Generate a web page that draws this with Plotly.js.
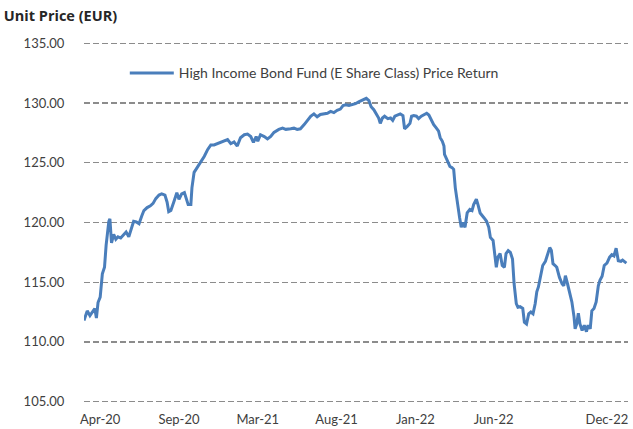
<!DOCTYPE html>
<html>
<head>
<meta charset="utf-8">
<script src="https://cdn.plot.ly/plotly-3.0.1.min.js"></script>
<style>html,body{margin:0;padding:0;background:#fff;}#chart{width:633px;height:429px;}</style>
</head>
<body>
<div id="chart"></div>
<script>
// Days since 31-Mar-2020 (approx.) for each reading
const days = [0,6,11,15,20,23,26,30,34,38,41,46,48,51,55,59,63,68,74,78,83,88,92,97,102,107,111,117,123,128,133,139,144,150,154,157,161,167,172,176,181,186,189,193,198,200,204,210,216,223,229,235,241,247,253,260,266,272,278,284,290,297,303,309,314,319,322,327,334,340,346,352,361,368,374,383,389,395,401,408,414,420,426,432,438,445,451,457,463,469,475,480,485,491,497,503,509,512,519,523,528,532,537,542,546,549,553,557,563,568,572,576,581,586,591,594,599,604,607,611,616,620,625,630,635,639,643,648,653,657,660,664,667,668,672,674,678,682,685,688,692,696,699,702,706,710,715,719,722,727,730,734,741,746,750,753,758,761,764,767,771,775,779,782,786,790,794,797,801,804,808,813,816,820,824,828,832,836,839,842,847,850,855,859,863,866,869,873,876,881,886,889,892,896,900,904,908,910,913,916,919,923,927,931,934,938,941,945,949,953,956,960,964,969,974,978,982,986,990,995,998,1003,1005];
// Unit price (EUR)
const prices = [111.8,112.6,112.2,112.5,112.8,112.0,113.3,113.75,115.7,116.25,118.1,120.1,120.3,118.3,119.0,118.6,118.8,118.7,119.0,119.2,118.8,119.45,120.1,120.05,119.9,120.55,121.0,121.25,121.4,121.6,122.0,122.3,122.4,122.3,121.7,120.9,121.0,121.8,122.5,121.95,122.4,122.5,122.1,121.5,121.5,122.9,124.2,124.6,125.1,125.55,126.1,126.5,126.5,126.6,126.7,126.8,126.95,126.6,126.75,126.4,127.1,127.35,127.4,127.2,126.7,127.2,126.8,127.35,127.2,127.0,127.2,127.55,127.8,127.9,127.8,127.85,127.9,127.8,127.85,128.2,128.6,128.9,129.1,128.85,129.05,129.1,129.15,129.3,129.2,129.4,129.5,129.8,129.85,129.8,129.85,129.95,130.1,130.15,130.3,130.4,130.2,129.7,129.45,129.0,128.75,128.3,128.75,128.9,128.7,128.75,128.55,128.9,129.0,129.1,128.95,127.85,128.05,128.3,128.9,128.95,128.9,128.7,128.9,129.0,129.15,129.0,128.6,128.2,127.9,127.65,127.1,126.8,126.4,125.7,125.3,125.1,124.7,124.6,124.45,122.9,121.4,120.4,119.6,120.0,119.6,120.8,121.1,121.0,121.5,121.95,121.5,120.8,120.4,120.1,119.6,118.75,118.5,117.4,116.25,117.1,117.4,116.4,116.25,117.4,117.65,117.5,116.95,114.85,113.2,112.9,112.95,112.8,111.65,111.5,112.35,112.5,112.35,113.2,114.2,114.6,115.7,116.4,116.75,117.4,117.9,117.65,116.55,116.4,116.25,115.4,114.85,114.7,115.55,114.85,114.15,113.35,112.1,111.1,111.5,112.4,111.5,110.95,111.4,110.85,111.4,111.1,112.6,112.8,113.35,114.7,115.15,115.5,116.4,116.6,117.1,117.3,117.2,117.85,116.8,116.75,116.85,116.65,116.6];
const tickDays = [30,176,322,468,614,759,969];
const tickLabels = ['Apr-20','Sep-20','Mar-21','Aug-21','Jan-22','Jun-22','Dec-22'];
const seriesName = 'High Income Bond Fund (E Share Class) Price Return';

const FONT = 'Lato, "Open Sans", sans-serif';
const trace = {
  x: days, y: prices, type: 'scatter', mode: 'lines', name: seriesName,
  line: {color: '#4A7EBB', width: 3}
};
const layout = {
  width: 633, height: 429,
  margin: {l: 84, r: 5, t: 41, b: 25, pad: 0},
  paper_bgcolor: '#fff', plot_bgcolor: '#fff',
  font: {family: FONT, size: 13, color: '#404040'},
  title: {text: '<b>Unit Price (EUR)</b>', x: 0.006, xanchor: 'left', xref: 'container',
          y: 0.963, yanchor: 'middle', yref: 'container', font: {family: '"Open Sans", Lato, sans-serif', size: 14.5, color: '#262626'}},
  showlegend: true,
  legend: {x: 0.075, xanchor: 'left', y: 0.955, yanchor: 'top', bgcolor: 'rgba(0,0,0,0)',
           itemwidth: 44,
           font: {family: FONT, size: 14, color: '#404040'}},
  xaxis: {range: [0, 1008], showgrid: false, zeroline: false, showline: false,
          tickmode: 'array', tickvals: tickDays, ticktext: tickLabels,
          ticks: 'outside', ticklen: 3, tickcolor: 'rgba(0,0,0,0)',
          tickfont: {family: FONT, size: 13, color: '#404040'}},
  yaxis: {range: [104.8, 135.2], dtick: 5, tick0: 105, tickformat: '.2f',
          showgrid: true, gridcolor: '#8c8c8c', gridwidth: 1.3, griddash: '6px,3px',
          zeroline: false, showline: false,
          ticks: 'outside', ticklen: 16, tickcolor: 'rgba(0,0,0,0)',
          tickfont: {family: FONT, size: 13, color: '#404040'}}
};
Plotly.newPlot('chart', [trace], layout, {displayModeBar: false, staticPlot: true});
</script>
</body>
</html>
